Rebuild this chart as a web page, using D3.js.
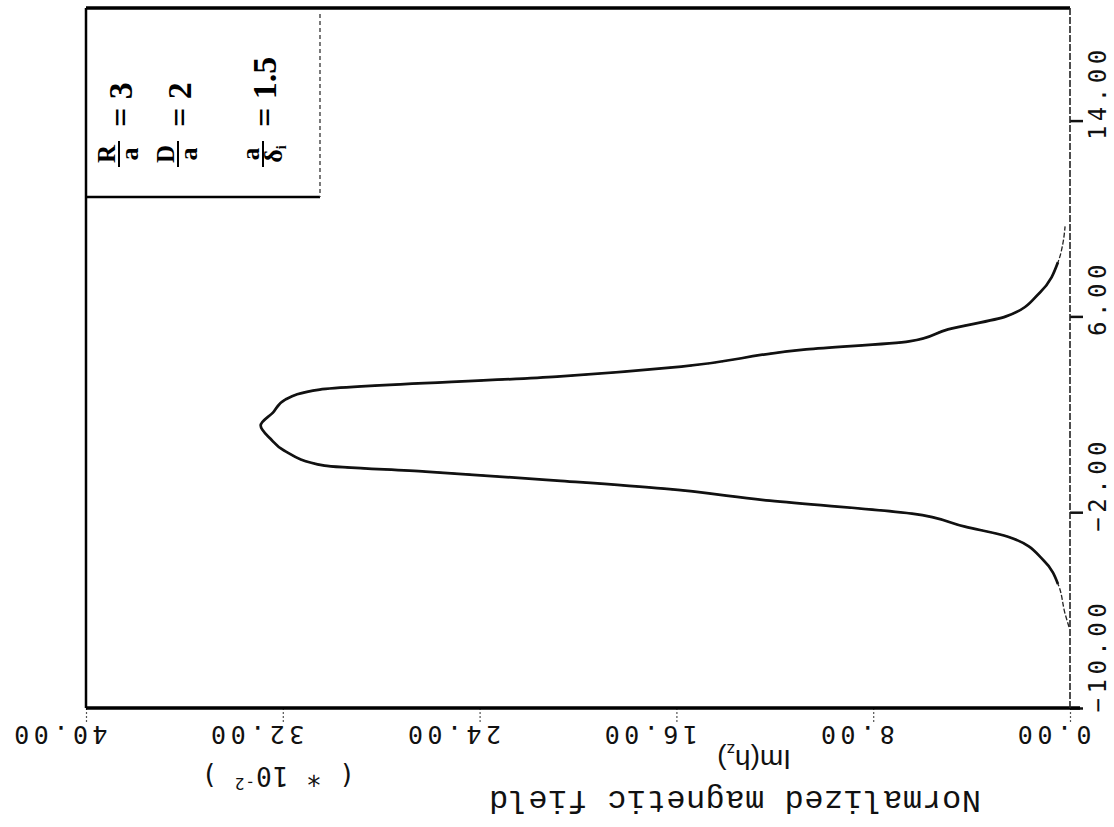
<!DOCTYPE html>
<html>
<head>
<meta charset="utf-8">
<script src="https://cdn.jsdelivr.net/npm/d3@7"></script>
<style>
body { margin: 0; background: #fff; }
svg { display: block; background: #fff; }
</style>
</head>
<body>
<svg width="1114" height="827"></svg>
<script>
// curve: position (vertical axis) and Im(hz) * 100 (horizontal axis)
var position = [-6.69, -6.15, -4.93, -3.98, -3.0, -2.59, -2.06, -1.53, -1.04, -0.71, -0.34, -0.10, 0.52, 1.0, 1.54, 2.07, 2.6, 3.01, 3.54, 3.95, 4.65, 4.98, 5.47, 6.0, 6.98, 8.21, 9.03, 9.68];
var field = [0.04, 0.2, 0.49, 1.06, 2.52, 4.27, 6.42, 12.2, 16.5, 20.85, 26.2, 30.3, 31.95, 32.5, 32.9, 32.4, 31.9, 30.5, 20.85, 15.8, 10.73, 6.54, 4.96, 2.6, 1.22, 0.49, 0.28, 0.2];

var fieldTicks = [0, 8, 16, 24, 32, 40];
var positionTicks = [-10, -2, 6, 14];

var legendNum = ["R", "D", "a"];
var legendDen = ["a", "a", "δ"];
var legendSub = ["", "", "i"];
var legendVal = ["3", "2", "1.5"];

var svg = d3.select("svg"),
    margin = {top: 8, right: 44, bottom: 119, left: 86},
    width = +svg.attr("width") - margin.left - margin.right,
    height = +svg.attr("height") - margin.top - margin.bottom,
    g = svg.append("g").attr("transform", "translate(" + margin.left + "," + margin.top + ")");

var x = d3.scaleLinear().domain([0, 40]).range([width, 0]);
var y = d3.scaleLinear().domain([-10, 18.6]).range([height, 0]);

var mono = "'DejaVu Sans Mono', monospace";

// field axis (bottom, labels upside down)
var xAxis = g.append("g")
    .attr("transform", "translate(0," + height + ")")
    .call(d3.axisBottom(x).tickValues(fieldTicks).tickSize(14).tickFormat(d3.format(".2f")));
xAxis.select(".domain").remove();
xAxis.selectAll("line").attr("stroke", "#555").attr("stroke-width", 1.2).attr("stroke-dasharray", "2,2");
xAxis.selectAll("text")
    .attr("x", 0).attr("y", 0).attr("dy", null)
    .attr("transform", "translate(21,18) rotate(180)")
    .attr("text-anchor", "start")
    .attr("font-family", mono).attr("font-size", 25)
    .attr("letter-spacing", 4.5).attr("fill", "#111");

// position axis (right, labels read upwards)
var yAxis = g.append("g")
    .attr("transform", "translate(" + width + ",0)")
    .call(d3.axisRight(y).tickValues(positionTicks).tickSize(13).tickFormat(d3.format(".2f")));
yAxis.select(".domain").remove();
yAxis.selectAll("line").attr("stroke", "#111").attr("stroke-width", 2.5);
yAxis.selectAll("text")
    .attr("x", 0).attr("y", 0).attr("dy", null)
    .attr("transform", function (d) { return "translate(36," + Math.min(19, height + 4 - y(d)) + ") rotate(-90)"; })
    .attr("text-anchor", "start")
    .attr("font-family", mono).attr("font-size", 24)
    .attr("letter-spacing", 4.5).attr("fill", "#111");

// frame
g.append("line").attr("x1", 0).attr("x2", width).attr("y1", 0).attr("y2", 0)
    .attr("stroke", "#000").attr("stroke-width", 3.5);
g.append("line").attr("x1", 0).attr("x2", width + 10).attr("y1", height).attr("y2", height)
    .attr("stroke", "#000").attr("stroke-width", 3.5);
g.append("line").attr("x1", 0).attr("x2", 0).attr("y1", 0).attr("y2", height)
    .attr("stroke", "#000").attr("stroke-width", 2.5);
g.append("line").attr("x1", width).attr("x2", width).attr("y1", 0).attr("y2", height)
    .attr("stroke", "#222").attr("stroke-width", 1.6).attr("stroke-dasharray", "7,2");

// curve
var pts = position.map(function (p, i) { return {p: p, v: field[i]}; });
var line = d3.line()
    .x(function (d) { return x(d.v); })
    .y(function (d) { return y(d.p); })
    .curve(d3.curveMonotoneY);

g.append("path").datum(pts).attr("d", line)
    .attr("fill", "none").attr("stroke", "#222").attr("stroke-width", 1.3).attr("stroke-dasharray", "5,2");
g.append("path").datum(pts).attr("d", line.defined(function (d) { return d.v >= 0.45; }))
    .attr("fill", "none").attr("stroke", "#111").attr("stroke-width", 2.7).attr("stroke-linejoin", "round");

// legend box
var boxW = 234, boxH = 189;
g.append("line").attr("x1", 0).attr("x2", boxW).attr("y1", boxH).attr("y2", boxH)
    .attr("stroke", "#000").attr("stroke-width", 2.5);
g.append("line").attr("x1", boxW).attr("x2", boxW).attr("y1", 6).attr("y2", boxH)
    .attr("stroke", "#333").attr("stroke-width", 1.3).attr("stroke-dasharray", "4,3");

var legendX = [33, 92, 177];
var serif = "'Liberation Serif', 'DejaVu Serif', serif";
legendVal.forEach(function (val, i) {
    var lg = g.append("g")
        .attr("transform", "translate(" + legendX[i] + ",160) rotate(-90)")
        .attr("font-family", serif).attr("font-weight", "bold").attr("fill", "#000");
    lg.append("text").attr("x", 14).attr("y", -4).attr("text-anchor", "middle")
        .attr("font-size", 25).text(legendNum[i]);
    lg.append("line").attr("x1", 1).attr("x2", 27).attr("y1", 0).attr("y2", 0)
        .attr("stroke", "#000").attr("stroke-width", 2);
    var den = lg.append("text").attr("x", 14).attr("y", 19).attr("text-anchor", "middle")
        .attr("font-size", 26).text(legendDen[i]);
    if (legendSub[i]) {
        den.append("tspan").attr("font-size", 14).attr("dy", 4).text(legendSub[i]);
    }
    lg.append("text").attr("x", 41).attr("y", 13).attr("font-size", 34)
        .text("= " + val);
});

// axis titles (upside down, like the scan)
var unit = svg.append("text")
    .attr("transform", "translate(355,767) rotate(180)")
    .attr("font-family", mono).attr("font-size", 26).attr("letter-spacing", 1).attr("fill", "#111");
unit.append("tspan").text("( * 10");
unit.append("tspan").attr("font-size", 16).attr("dy", -11).text("-2");
unit.append("tspan").attr("dy", 11).text(" )");

var im = svg.append("text")
    .attr("transform", "translate(791,750) rotate(180)")
    .attr("font-family", "'Liberation Sans', Arial, sans-serif").attr("font-size", 28).attr("fill", "#111");
im.append("tspan").text("Im(h");
im.append("tspan").attr("font-size", 17).attr("dy", 6).text("z");
im.append("tspan").attr("dy", -6).text(")");

svg.append("text")
    .attr("transform", "translate(981,791) rotate(180)")
    .attr("font-family", "'Liberation Mono', 'Courier New', monospace")
    .attr("font-size", 32).attr("letter-spacing", 0.5).attr("fill", "#111")
    .text("Normalized magnetic field");
</script>
</body>
</html>
